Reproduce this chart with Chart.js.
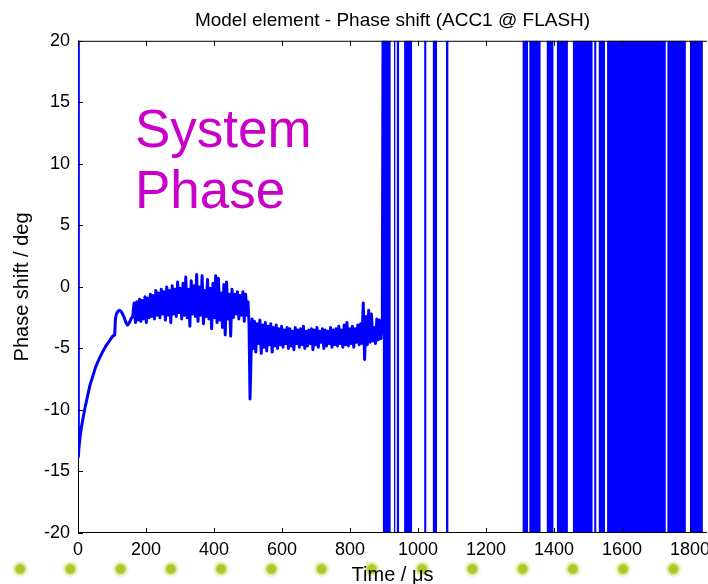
<!DOCTYPE html>
<html>
<head>
<meta charset="utf-8">
<script src="https://cdn.jsdelivr.net/npm/chart.js@4/dist/chart.umd.min.js"></script>
<style>
  html, body { margin: 0; padding: 0; background: #fff; }
  #wrap { position: relative; width: 708px; height: 584px; overflow: hidden; }
  #dots { position: absolute; left: 0; top: 560px; width: 708px; height: 18px;
    background-image: radial-gradient(circle, rgba(168,198,38,1) 0px, rgba(172,202,45,1) 4px, rgba(205,225,110,0.5) 6px, rgba(255,255,255,0) 9px);
    background-size: 50.25px 18px; background-position: -5px 0; background-repeat: repeat-x; }
  canvas { position: absolute; left: 0; top: 0; }
</style>
</head>
<body>
<div id="wrap">
  <div id="dots"></div>
  <canvas id="c" width="708" height="584"></canvas>
</div>
<script>
// ---- data ----
const chartTitle = 'Model element - Phase shift (ACC1 @ FLASH)';
const xTickValues = [0, 200, 400, 600, 800, 1000, 1200, 1400, 1600, 1800];
const yTickValues = [-20, -15, -10, -5, 0, 5, 10, 15, 20];

// time (µs) of the measured trace before the phase wraps
const traceT = [
  0, 1, 3, 6, 10, 14, 20, 28, 35, 43, 52, 63, 72, 82, 92, 102, 108, 110, 113, 117, 122, 127, 131, 136, 141, 146, 151, 156, 161,
  165, 169, 173, 177, 181, 185, 189, 193, 197, 201, 205, 209, 213, 217, 221, 225, 229, 233, 237, 241, 245, 249, 253, 257, 261, 265, 269,
  273, 277, 281, 285, 289, 293, 297, 301, 305, 309, 313, 317, 321, 325, 329, 333, 337, 341, 345, 349, 353, 357, 361, 365, 369, 373, 377,
  381, 385, 389, 393, 397, 401, 405, 409, 413, 417, 421, 425, 429, 433, 437, 441, 445, 449, 453, 457, 461, 465, 469, 473, 477, 481, 485,
  489, 493, 497, 500, 503, 506, 509, 512,
  515, 519, 523, 527, 531, 535, 539, 543, 547, 551, 555, 559, 563, 567, 571, 575, 579, 583, 587, 591, 595, 599, 603, 607, 611, 615, 619,
  623, 627, 631, 635, 639, 643, 647, 651, 655, 659, 663, 667, 671, 675, 679, 683, 687, 691, 695, 699, 703, 707, 711, 715, 719, 723, 727,
  731, 735, 739, 743, 747, 751, 755, 759, 763, 767, 771, 775, 779, 783, 787, 791, 795, 799, 803, 807, 811, 815, 819, 823, 827, 831, 835,
  839, 843, 847, 851, 855, 859, 863, 867, 871, 875, 879, 883, 887, 891, 895, 898];
// phase (deg) at those times
const traceV = [
  30, -13.8, -13.0, -12.2, -11.4, -10.8, -9.9, -8.9, -8.0, -7.3, -6.5, -5.8, -5.3, -4.8, -4.4, -4.0, -3.9, -2.6, -2.2, -2.0, -1.9, -2.0, -2.2, -2.5, -2.9, -3.1, -2.9, -2.6, -2.4,
  -1.3, -2.9, -1.2, -2.7, -1.0, -2.8, -1.1, -2.6, -0.8, -2.9, -0.9, -2.5, -0.6, -2.4, -0.7, -2.6, -0.3, -2.3, -0.5, -2.5, -0.2, -2.2, -0.4, -2.7, 0.0, -2.3, -0.3,
  -2.9, 0.1, -2.2, -0.2, -2.4, 0.4, -2.1, -0.1, -2.6, 0.3, -2.3, 0.8, -2.5, -0.2, -3.2, 0.5, -2.2, 0.1, -2.4, 1.0, -2.8, 0.0, -2.3, 0.9, -3.0, -0.3, -2.4,
  0.6, -2.6, -0.1, -3.4, 0.3, -2.5, 0.9, -2.9, 0.7, -2.7, -0.5, -3.3, 0.2, -3.9, 0.4, -2.6, -0.6, -4.0, -0.2, -2.5, -0.6, -2.2, -0.4, -2.6, -0.7, -2.3, -0.4,
  -2.8, -0.6, -2.3, -1.2, -3.0, -9.1, -5.5, -2.6,
  -5.0, -2.8, -5.3, -3.0, -4.6, -2.7, -5.4, -3.1, -4.9, -2.9, -5.2, -3.2, -4.7, -3.0, -5.3, -3.3, -4.8, -3.1, -5.0, -3.4, -4.7, -3.2, -4.9, -3.5, -4.6, -3.3, -5.0,
  -3.4, -4.8, -3.6, -5.1, -3.3, -4.6, -3.5, -4.9, -3.4, -4.7, -3.2, -5.0, -3.6, -4.8, -3.5, -4.6, -3.4, -5.1, -3.5, -4.7, -3.3, -4.9, -3.6, -4.5, -3.4, -5.0, -3.5,
  -4.8, -3.6, -4.6, -3.3, -4.9, -3.5, -4.7, -3.4, -4.8, -3.2, -4.6, -3.5, -4.9, -3.1, -4.7, -2.9, -4.8, -3.4, -4.6, -3.2, -4.9, -3.4, -4.5, -3.1, -4.7, -3.0, -4.6,
  -1.3, -5.9, -2.4, -4.7, -1.9, -4.5, -2.2, -4.4, -3.3, -4.6, -2.6, -4.3, -2.7, -4.2, -3.0, 30];

// after ~900 µs the phase wraps continuously; these are the time spans (µs)
// where the wrapped trace fills the whole visible range
const wrapBandStart = [896, 929, 937, 959, 1018, 1043, 1082, 1307, 1327, 1378, 1408, 1455, 1518, 1531, 1556, 1733, 1800];
const wrapBandEnd   = [920, 934, 945, 983, 1025, 1056, 1090, 1324, 1361, 1399, 1441, 1514, 1525, 1550, 1729, 1788, 1838];

const annotationLines = ['System', 'Phase'];

// ---- chart ----
const FONT = "'Liberation Sans', Arial, Helvetica, sans-serif";
const BLUE = '#0000ff';

const n = Math.min(traceT.length, traceV.length);
const traceData = [];
for (let i = 0; i < n; i++) traceData.push({ x: traceT[i], y: traceV[i] });
const datasets = [{
  data: traceData, borderColor: BLUE, borderWidth: 3, pointRadius: 0, tension: 0, fill: false,
  borderJoinStyle: 'round', borderCapStyle: 'round'
}];
wrapBandStart.forEach((s, i) => {
  datasets.push({
    data: [{ x: s, y: 20 }, { x: wrapBandEnd[i], y: 20 }],
    borderColor: BLUE, borderWidth: 1, backgroundColor: BLUE, pointRadius: 0,
    fill: { target: { value: -20 } }
  });
});

const axisBox = {
  id: 'axisBox',
  beforeDatasetsDraw(chart) {
    const { ctx, chartArea: a } = chart;
    ctx.save();
    ctx.strokeStyle = '#000'; ctx.lineWidth = 1;
    ctx.beginPath(); ctx.moveTo(a.left + 0.5, a.top); ctx.lineTo(a.left + 0.5, a.bottom); ctx.stroke();
    ctx.restore();
  },
  afterDatasetsDraw(chart) {
    const { ctx, chartArea: a, scales } = chart;
    ctx.save();
    ctx.strokeStyle = '#000'; ctx.lineWidth = 1;
    ctx.beginPath();
    ctx.moveTo(a.left, a.top + 0.5); ctx.lineTo(a.right, a.top + 0.5);
    ctx.moveTo(a.left, a.bottom - 0.5); ctx.lineTo(a.right, a.bottom - 0.5);
    scales.x.ticks.forEach(t => {
      const px = Math.round(scales.x.getPixelForValue(t.value)) + 0.5;
      ctx.moveTo(px, a.bottom); ctx.lineTo(px, a.bottom - 5);
      ctx.moveTo(px, a.top); ctx.lineTo(px, a.top + 5);
    });
    scales.y.ticks.forEach(t => {
      const py = Math.round(scales.y.getPixelForValue(t.value)) + 0.5;
      ctx.moveTo(a.left, py); ctx.lineTo(a.left + 5, py);
    });
    ctx.stroke();
    // annotation text
    ctx.fillStyle = '#c800c8';
    ctx.font = '53px ' + FONT;
    ctx.textBaseline = 'alphabetic';
    ctx.textAlign = 'left';
    ctx.fillText(annotationLines[0], a.left + 57, 147);
    ctx.fillText(annotationLines[1], a.left + 57, 208);
    ctx.restore();
  }
};

new Chart(document.getElementById('c'), {
  type: 'line',
  data: { datasets },
  options: {
    responsive: false,
    animation: false,
    events: [],
    layout: { padding: { right: 1, left: 0, top: 0, bottom: 0 } },
    plugins: {
      legend: { display: false },
      tooltip: { enabled: false },
      title: {
        display: true, text: chartTitle, color: '#000', fullSize: false,
        font: { family: FONT, size: 19, weight: 'normal' },
        padding: { top: 9, bottom: 9 }
      }
    },
    scales: {
      x: {
        type: 'linear', min: 0, max: 1850,
        grid: { display: false, drawTicks: false }, border: { display: false },
        ticks: { color: '#000', font: { family: FONT, size: 18 }, padding: 6, maxRotation: 0, autoSkip: false,
                 callback: v => String(v) },
        afterBuildTicks(s) { s.ticks = xTickValues.map(v => ({ value: v })); },
        title: { display: true, text: 'Time / μs', color: '#000', font: { family: FONT, size: 20, lineHeight: 0.9 }, padding: { top: 0, bottom: 0 } },
        afterFit(s) { s.height = 51; s.paddingLeft = 0; s.paddingRight = 0; }
      },
      y: {
        type: 'linear', min: -20, max: 20,
        grid: { display: false, drawTicks: false }, border: { display: false },
        ticks: { color: '#000', font: { family: FONT, size: 18 }, padding: 8, callback: v => String(v) },
        afterBuildTicks(s) { s.ticks = yTickValues.map(v => ({ value: v })); },
        title: { display: true, text: 'Phase shift / deg', color: '#000', font: { family: FONT, size: 20 }, padding: { top: 10, bottom: 0 } },
        afterFit(s) { s.width = 78; s.paddingTop = 0; s.paddingBottom = 0; }
      }
    }
  },
  plugins: [axisBox]
});
</script>
</body>
</html>
